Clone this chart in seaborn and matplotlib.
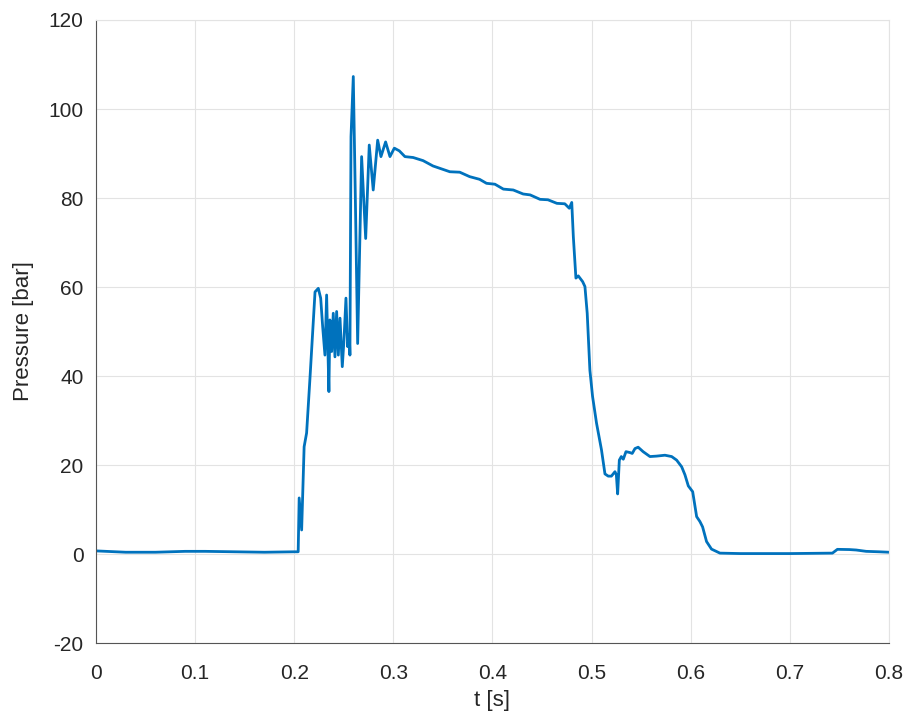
import numpy as np
import pandas as pd
import seaborn as sns
import matplotlib.pyplot as plt

# valores
t = [0.000, 0.010, 0.030, 0.060, 0.090, 0.110, 0.140, 0.170, 0.200, 0.2040,
     0.2050, 0.2075, 0.2100, 0.2125, 0.2160, 0.2210, 0.2243, 0.2267, 0.2287, 0.2310,
     0.2327, 0.2350, 0.2360, 0.2378, 0.2394, 0.2411, 0.2428, 0.2445, 0.2462, 0.2485,
     0.2502, 0.2522, 0.2539, 0.2556, 0.2562, 0.2573, 0.2596, 0.2616, 0.2640, 0.2680,
     0.2721, 0.2757, 0.2797, 0.2842, 0.2875, 0.2922, 0.2966, 0.3010, 0.3060, 0.3117,
     0.3200, 0.3300, 0.3400, 0.3570, 0.3670, 0.3770, 0.3870, 0.3940, 0.4025, 0.4110,
     0.4210, 0.4310, 0.4380, 0.4480, 0.4560, 0.4650, 0.4730, 0.4775, 0.4800, 0.4816,
     0.4842, 0.4866, 0.4910, 0.4933, 0.4956, 0.4983, 0.5010, 0.5050, 0.5100, 0.5135,
     0.5168, 0.5200, 0.5236, 0.5250, 0.5263, 0.5280, 0.5300, 0.5320, 0.5347, 0.5387,
     0.5410, 0.5438, 0.5470, 0.5520, 0.5589, 0.5656, 0.5740, 0.5808, 0.5858, 0.5909,
     0.5942, 0.5976, 0.6020, 0.6060, 0.6093, 0.6120, 0.6160, 0.6210, 0.6295, 0.6500,
     0.7000, 0.7430, 0.7480, 0.7600, 0.7670, 0.7770, 0.7900, 0.8000]
pressure = [0.7, 0.6, 0.4, 0.4, 0.6, 0.6, 0.5, 0.4, 0.5, 0.5,
            12.6, 5.4, 24.1, 27.2, 39.9, 58.9, 59.7, 57.5, 51.1, 44.7,
            58.2, 36.5, 52.6, 45.5, 54.1, 44.3, 54.5, 44.7, 53.0, 42.1,
            48.1, 57.5, 46.6, 49.2, 44.7, 93.8, 107.3, 81.0, 47.3, 89.3,
            70.9, 91.9, 81.8, 93.0, 89.3, 92.6, 89.3, 91.2, 90.6, 89.3,
            89.1, 88.4, 87.2, 85.9, 85.8, 84.8, 84.2, 83.3, 83.1, 82.0,
            81.8, 80.9, 80.7, 79.7, 79.6, 78.8, 78.7, 77.7, 79.0, 71.3,
            62.0, 62.5, 61.2, 60.1, 54.1, 41.3, 35.4, 29.4, 23.4, 18.0,
            17.5, 17.5, 18.5, 17.8, 13.5, 21.1, 21.9, 21.3, 23.0, 22.8,
            22.6, 23.7, 24.0, 23.0, 21.9, 22.0, 22.2, 21.9, 21.1, 19.6,
            17.8, 15.3, 14.0, 8.4, 7.3, 6.1, 2.8, 1.1, 0.2, 0.1,
            0.1, 0.2, 1.05, 1.0, 0.9, 0.6, 0.5, 0.4]

df = pd.DataFrame({'t': t, 'p': pressure})

sns.set_style('whitegrid', {'grid.color': '#e3e3e3', 'axes.edgecolor': '#e3e3e3'})
plt.rcParams['font.family'] = ['Liberation Sans', 'DejaVu Sans']
plt.rcParams['axes.unicode_minus'] = False

fig = plt.figure(figsize=(9.08, 7.22), dpi=100)
ax = fig.add_axes([0.1057, 0.1094, 0.8733, 0.8629])

sns.lineplot(data=df, x='t', y='p', ax=ax, color='#0072BD', linewidth=2.0,
             estimator=None, sort=False)

ax.set_xlim(0, 0.8)
ax.set_ylim(-20, 120)
ax.set_xticks(np.arange(0, 0.81, 0.1))
ax.set_xticklabels(['0', '0.1', '0.2', '0.3', '0.4', '0.5', '0.6', '0.7', '0.8'])
ax.set_yticks(np.arange(-20, 121, 20))
ax.tick_params(labelsize=15, colors='#404040', labelcolor='#262626',
               direction='in', length=3, width=0.8)
ax.tick_params(axis='x', pad=15)
ax.tick_params(axis='y', pad=9)
ax.spines['left'].set_color('#555555')
ax.spines['bottom'].set_color('#555555')
ax.set_xlabel('t [s]', fontsize=16, color='#262626', labelpad=5)
ax.set_ylabel('Pressure [bar]', fontsize=16, color='#262626', labelpad=10)

plt.savefig('out.png', dpi=100)
